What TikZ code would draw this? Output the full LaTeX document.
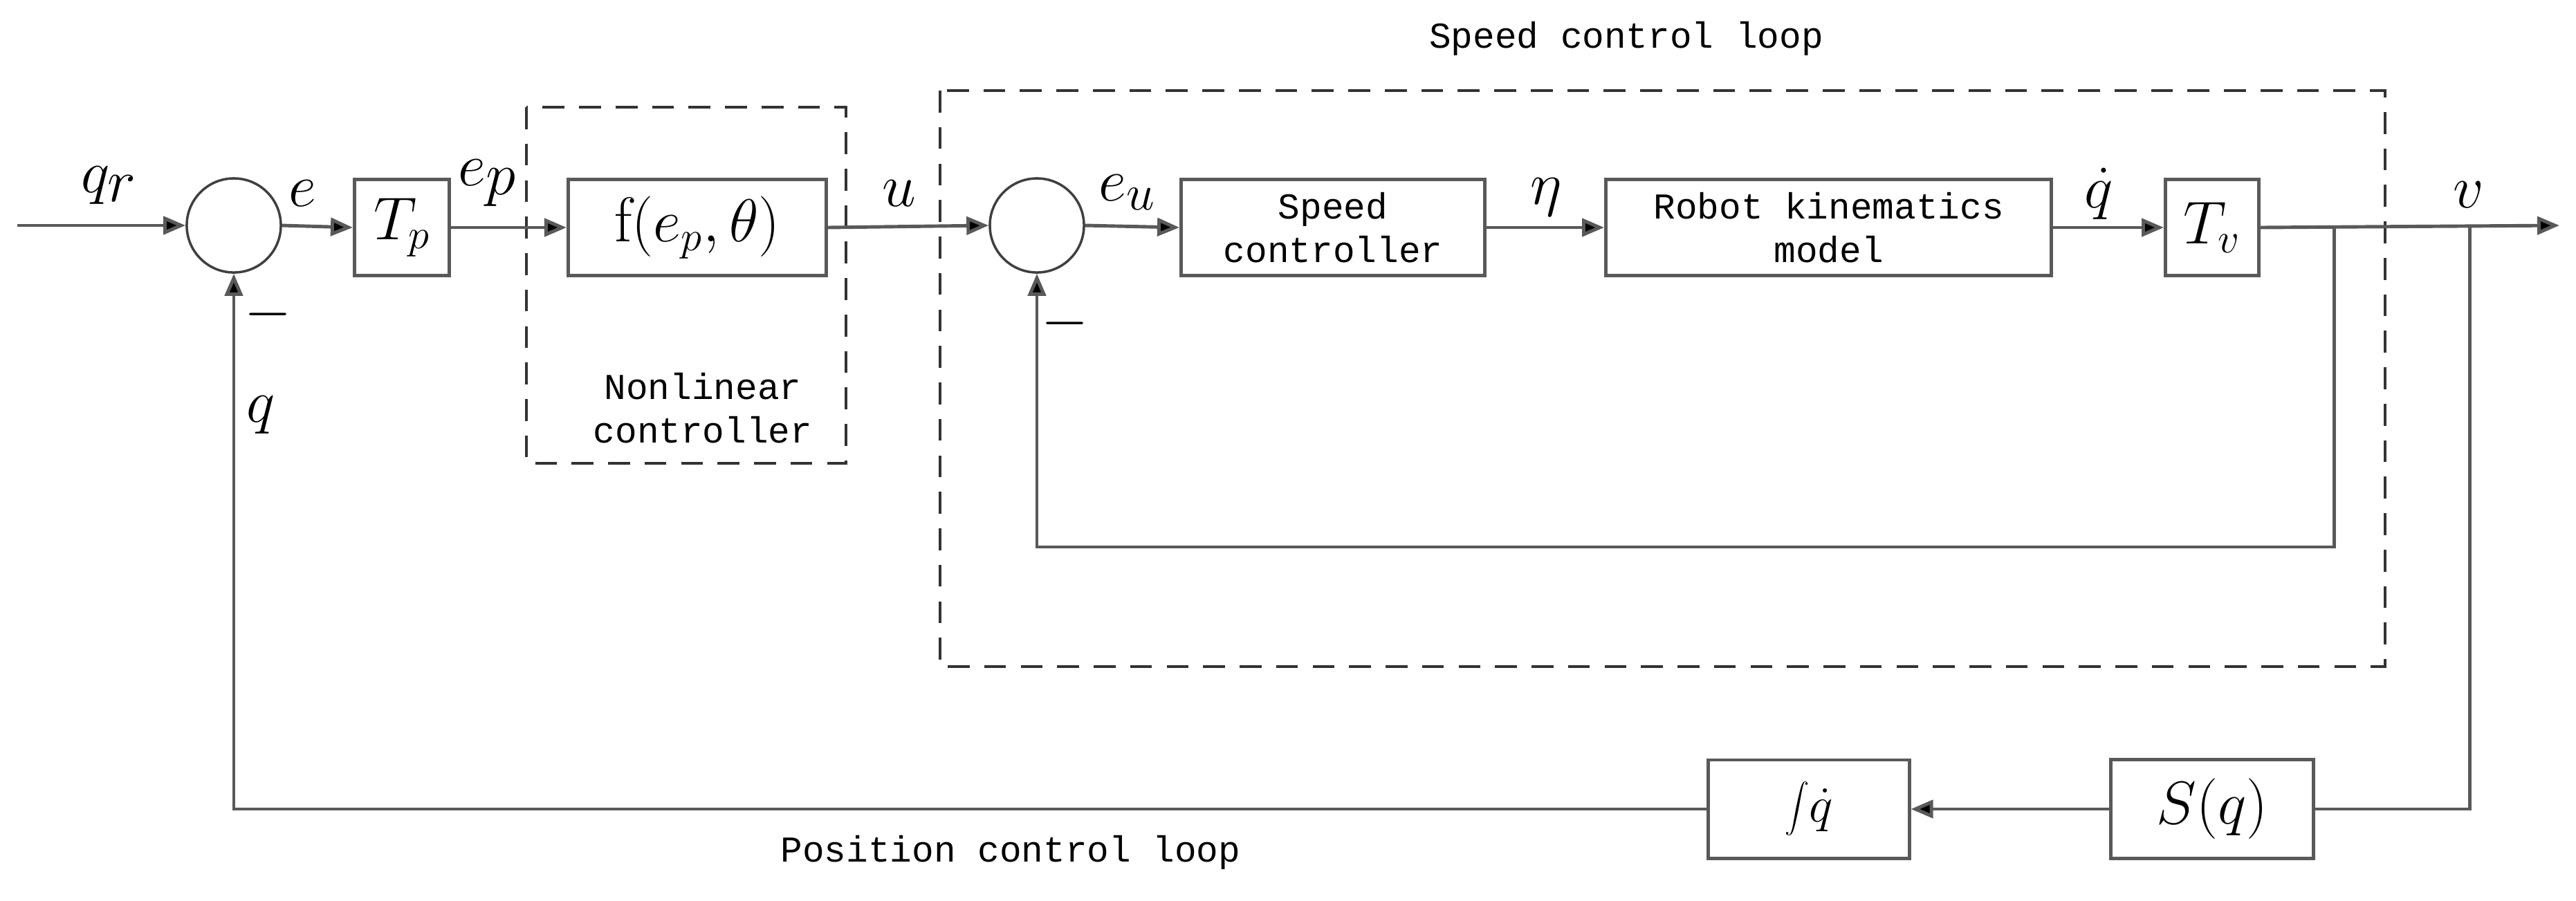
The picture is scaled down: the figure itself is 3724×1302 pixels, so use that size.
\documentclass[tikz,border=0pt]{standalone}
\usepackage{fontspec}
\newfontfamily\monof{Liberation Mono}
\usetikzlibrary{arrows.meta}
\begin{document}
\begin{tikzpicture}[x=0.01cm,y=-0.01cm,
  ln/.style={line width=1.4pt,draw=black!65},
  arr/.style={ln,-{Triangle[length=0.32cm,width=0.26cm,fill=black]}},
  blk/.style={ln,fill=white,minimum height=1.39cm,inner sep=0pt,anchor=north west},
  sum/.style={circle,draw=black!75,line width=1pt,minimum size=1.36cm,inner sep=0pt},
  dbox/.style={draw=black!80,line width=1.1pt,dash pattern=on 9pt off 6pt},
  big/.style={font=\fontsize{38}{38}\selectfont},
  mid/.style={font=\fontsize{32}{32}\selectfont},
  txt/.style={font=\monof\fontsize{15}{18}\selectfont,align=center}]
\useasboundingbox (0,0) rectangle (3724,1302);
% dashed boxes
\draw[dbox] (761,155) rectangle (1223,670);
\draw[dbox] (1359,131) rectangle (3448,964);
% nodes
\node[sum] (s1) at (338,326) {};
\node[blk,minimum width=1.37cm] (tp) at (510,257) {\fontsize{26}{26}\selectfont$T_p$};
\node[blk,minimum width=3.73cm] (f) at (819,257) {\fontsize{26}{26}\selectfont$\mathrm{f}(e_p,\theta)$};
\node[sum] (s2) at (1499,326) {};
\node[blk,minimum width=4.39cm,txt] (sc) at (1705,257) {Speed\\controller};
\node[blk,minimum width=6.44cm,txt] (rk) at (2319,257) {Robot kinematics\\model};
\node[blk,minimum width=1.35cm] (tv) at (3128,257) {\fontsize{26}{26}\selectfont$T_v$};
\node[blk,minimum width=2.92cm,minimum height=1.43cm,anchor=center] (S) at (3198,1170) {\fontsize{28}{28}\selectfont$S\big(q\big)$};
\node[blk,minimum width=2.90cm,minimum height=1.42cm,anchor=center] (I) at (2615,1170) {\fontsize{20}{20}\selectfont$\displaystyle\int\!\dot q$};
\coordinate (in) at (25,326);
\coordinate (out) at (3700,326);
\coordinate (br1) at (3374,326);
\coordinate (fb1) at (3374,791);
\coordinate (fb2) at (1499,791);
\coordinate (br2) at (3570,326);
\coordinate (br3) at (3570,1170);
\coordinate (fq1) at (338,1170);
% connectors
\draw[arr] (in) -- (s1.west);
\draw[arr] (s1.east) -- (tp.west);
\draw[arr] (tp.east) -- (f.west);
\draw[arr] (f.east) -- (s2.west);
\draw[arr] (s2.east) -- (sc.west);
\draw[arr] (sc.east) -- (rk.west);
\draw[arr] (rk.east) -- (tv.west);
\draw[arr] (tv.east) -- (out);
\draw[arr] (br1) -- (fb1) -- (fb2) -- (s2.south);
\draw[ln] (br2) -- (br3) -- (S.east);
\draw[arr] (S.west) -- (I.east);
\draw[arr] (I.west) -- (fq1) -- (s1.south);
% labels
\node[big] (lqr) at (158,268) {$q_r$};
\node[big] (le) at (437,280) {$e$};
\node[big] (lep) at (705,265) {$e_p$};
\node[big] (lu) at (1300,280) {$u$};
\node[big] (lq) at (377,600) {$q$};
\node[font=\bfseries\fontsize{30}{30}\selectfont] (m1) at (388,455) {$-$};
\node[font=\fontsize{30}{30}\selectfont] (m2) at (1540,468) {$-$};
\node[mid] (leu) at (1630,278) {$e_u$};
\node[mid] (leta) at (2235,285) {$\eta$};
\node[mid] (lqd) at (3034,280) {$\dot q$};
\node[mid] (lv) at (3569,282) {$v$};
\node[txt] (nl) at (1016,590) {Nonlinear\\controller};
\node[txt] (scl) at (2351,56) {Speed control loop};
\node[txt] (pcl) at (1461,1233) {Position control loop};
\end{tikzpicture}
\end{document}
